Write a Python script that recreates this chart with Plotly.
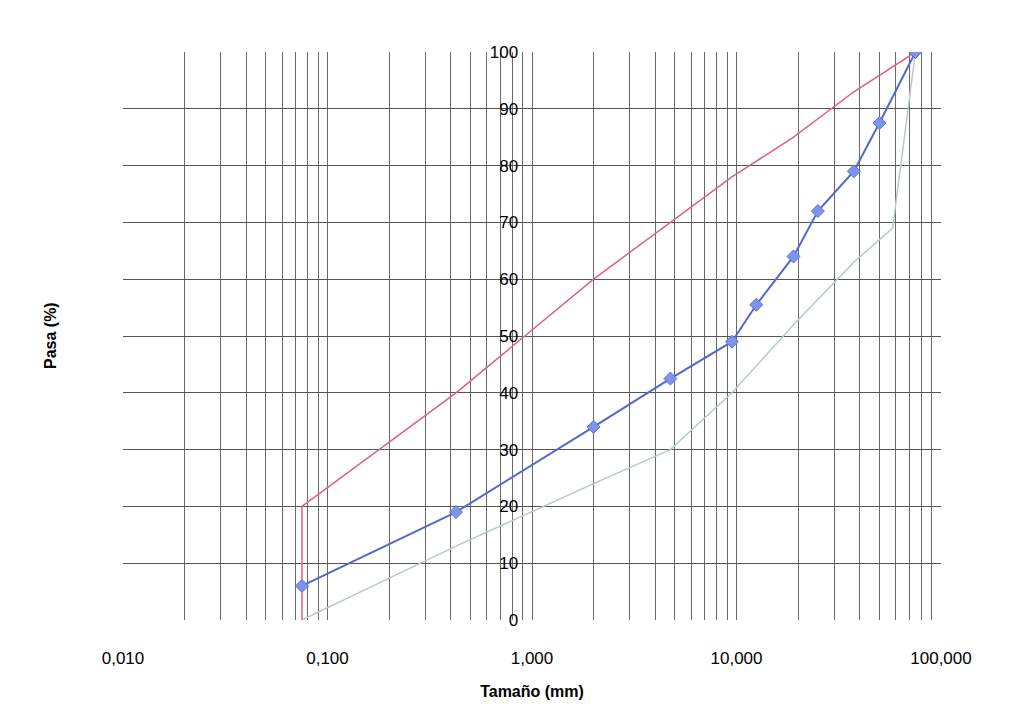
import plotly.graph_objects as go

# Sieve sizes (mm) and % passing
sample_size = [0.075, 0.425, 2, 4.75, 9.5, 12.5, 19, 25, 37.5, 50, 75]
sample_pass = [6, 19, 34, 42.5, 49, 55.5, 64, 72, 79, 87.5, 100]

upper_size = [0.075, 0.075, 0.425, 2, 4.75, 9.5, 19, 37.5, 75]
upper_pass = [0, 20, 40, 60, 70, 78, 85, 93, 100]

lower_size = [0.075, 0.425, 2, 4.75, 9.5, 19, 37.5, 58, 75]
lower_pass = [0, 13, 24, 30, 40, 52, 63, 69, 100]

x_major = [0.01, 0.1, 1, 10, 100]
x_major_text = ["0,010", "0,100", "1,000", "10,000", "100,000"]
y_ticks = [0, 10, 20, 30, 40, 50, 60, 70, 80, 90, 100]

# all log-grid positions (1..9 per decade); only decades get a label
grid_vals = []
grid_text = []
for i, d in enumerate(x_major[:-1]):
    for k in range(1, 10):
        grid_vals.append(round(d * k, 6))
        grid_text.append(x_major_text[i] if k == 1 else "")
grid_vals.append(x_major[-1])
grid_text.append(x_major_text[-1])

fig = go.Figure()
fig.add_trace(go.Scatter(x=lower_size, y=lower_pass, mode="lines",
                         line=dict(color="#b9cbc4", width=1.5), showlegend=False))
fig.add_trace(go.Scatter(x=upper_size, y=upper_pass, mode="lines",
                         line=dict(color="#e0607e", width=1.5), showlegend=False))
fig.add_trace(go.Scatter(x=sample_size, y=sample_pass, mode="lines+markers",
                         line=dict(color="#5468cc", width=2),
                         marker=dict(symbol="diamond", size=10, color="#7d94ea",
                                     line=dict(color="#5d72d6", width=1)),
                         showlegend=False))

fig.update_layout(
    width=1013, height=726,
    paper_bgcolor="white", plot_bgcolor="white",
    margin=dict(l=115, r=80, t=44, b=114),
    font=dict(family="Liberation Sans, Arial, sans-serif", color="black"),
    xaxis=dict(type="log", range=[-2, 2], tickmode="array",
               tickvals=grid_vals, ticktext=grid_text, automargin=False,
               showgrid=True, gridcolor="#6a6a6a", gridwidth=1,
               zeroline=False, showline=False, ticks="",
               tickfont=dict(size=17), ticklabelstandoff=26,
               title=dict(text="<b>Tamaño (mm)</b>", font=dict(size=16), standoff=18)),
    yaxis=dict(range=[0, 100], tickmode="array", tickvals=y_ticks,
               anchor="free", position=0.483, automargin=False,
               showgrid=True, gridcolor="#555555", gridwidth=1,
               zeroline=False, showline=False, ticks="",
               tickfont=dict(size=17)),
    annotations=[dict(text="<b>Pasa (%)</b>", x=(42 - 115) / 818, y=0.5,
                      xref="paper", yref="paper",
                      showarrow=False, textangle=-90, font=dict(size=16),
                      xanchor="center", yanchor="middle")],
)

fig.write_html("out.html")
